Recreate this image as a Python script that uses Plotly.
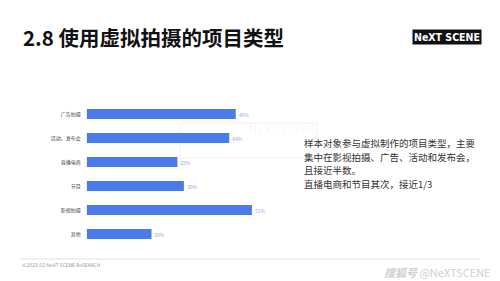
import plotly.graph_objects as go

categories = ["广告拍摄", "活动、发布会", "直播电商", "节目", "影视拍摄", "其他"]
values = [46, 44, 28, 30, 51, 20]
value_labels = ["46%", "44%", "28%", "30%", "51%", "20%"]

title = "2.8 使用虚拟拍摄的项目类型"
notes = ["样本对象参与虚拟制作的项目类型，主要",
         "集中在影视拍摄、广告、活动和发布会，",
         "且接近半数。",
         "直播电商和节目其次，接近1/3"]

W, H = 500, 281
CJK = "Noto Sans CJK SC"
COND = "DejaVu Sans Condensed"

fig = go.Figure()
fig.add_trace(go.Bar(
    x=values, y=categories, orientation="h",
    marker=dict(color="#4a7bea", line=dict(width=0)),
    width=0.42,
    text=value_labels, textposition="outside",
    textfont=dict(size=5, color="#8fa9ee", family=CJK),
    cliponaxis=False,
))

x0px, scale = 86.7, 3.24
fig.update_layout(
    width=W, height=H,
    margin=dict(l=0, r=0, t=0, b=0),
    paper_bgcolor="white", plot_bgcolor="rgba(0,0,0,0)",
    showlegend=False,
    xaxis=dict(range=[0, 100], domain=[x0px / W, (x0px + 100 * scale) / W],
               visible=False, fixedrange=True),
    yaxis=dict(autorange=False, range=[5.5, -0.5], type="category",
               domain=[1 - 246 / H, 1 - 102 / H],
               showgrid=False, zeroline=False, showline=False, ticks="",
               ticklabelstandoff=5,
               tickfont=dict(size=5, color="#444", family=CJK)),
    font=dict(family=CJK),
)

# faint watermark in chart
fig.add_shape(type="rect", xref="paper", yref="paper", layer="below",
              x0=180 / W, x1=317 / W, y0=1 - 158 / H, y1=1 - 123 / H,
              line=dict(color="rgba(0,0,0,0.04)", width=1.5))
fig.add_annotation(text="NeXT SCENE", xref="paper", yref="paper",
                   x=247 / W, y=1 - 129.5 / H, xanchor="left", yanchor="middle",
                   showarrow=False,
                   font=dict(size=12, color="rgba(0,0,0,0.045)", family=COND))

# title
fig.add_annotation(text="<b>" + title + "</b>", xref="paper", yref="paper",
                   x=21 / W, y=1 - 37 / H, xanchor="left", yanchor="middle",
                   showarrow=False, font=dict(size=20.5, color="#111", family=CJK))

# logo
fig.add_annotation(text="<b>NeXT SCENE</b>", xref="paper", yref="paper",
                   x=446.5 / W, y=1 - 37.5 / H, xanchor="center", yanchor="middle",
                   showarrow=False, bgcolor="#111", borderpad=1,
                   font=dict(size=10.5, color="white", family=COND))

# notes
for i, line in enumerate(notes):
    fig.add_annotation(text=line, xref="paper", yref="paper",
                       x=302 / W, y=1 - (143 + 13.6 * i) / H,
                       xanchor="left", yanchor="middle", showarrow=False,
                       font=dict(size=9.5, color="#333", family=CJK))

# footer
fig.add_shape(type="line", xref="paper", yref="paper",
              x0=20 / W, x1=480 / W, y0=1 - 259 / H, y1=1 - 259 / H,
              line=dict(color="#e0e0e0", width=1))
fig.add_annotation(text="©2023.02 NeXT SCENE ReSEARCH", xref="paper", yref="paper",
                   x=20 / W, y=1 - 265 / H, xanchor="left", yanchor="middle",
                   showarrow=False, font=dict(size=5, color="#999", family=COND))
fig.add_annotation(text="<i><b>搜狐号</b></i> @NeXTSCENE", xref="paper", yref="paper",
                   x=493 / W, y=1 - 272 / H, xanchor="right", yanchor="middle",
                   showarrow=False, font=dict(size=11, color="#d0d0d0", family=CJK))

fig.write_html("out.html")
